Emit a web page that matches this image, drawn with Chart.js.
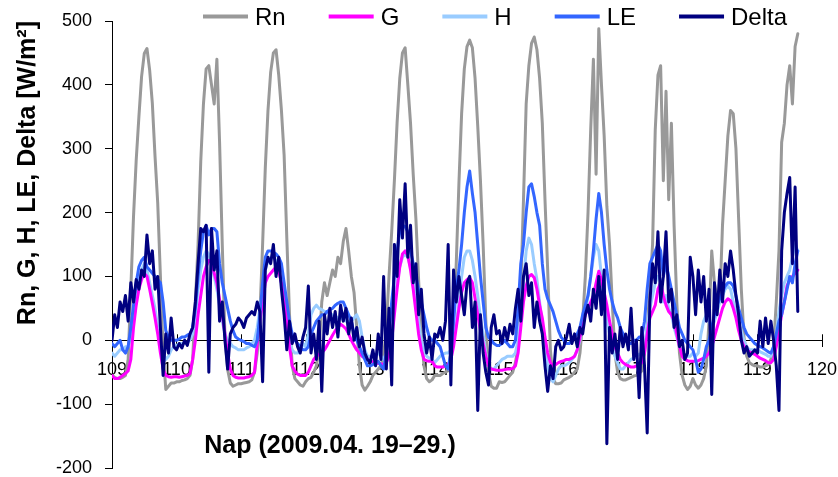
<!DOCTYPE html>
<html>
<head>
<meta charset="utf-8">
<script src="https://cdn.jsdelivr.net/npm/chart.js@4.4.1/dist/chart.umd.min.js"></script>
<style>
  html, body { margin: 0; padding: 0; background: #fff; }
  #wrap { width: 838px; height: 477px; }
</style>
</head>
<body>
<div id="wrap"><canvas id="flux"></canvas></div>
<script>
// hourly energy fluxes, day-of-year 109.0 .. 119.625 (W/m2)
const startDay = 109;
const stepDay = 1 / 24;

const rn = [
  -55,-58,-60,-60,-58,-55,-30,80,194,282,350,413,449,457,423,371,288,215,100,-15,-77,-72,-67,-67,
  -65,-65,-63,-62,-60,-55,-30,60,150,280,370,425,430,400,370,440,310,150,6,-46,-67,-72,-70,-68,
  -68,-67,-66,-65,-62,-50,-20,40,150,270,360,420,450,455,415,360,290,160,40,-40,-60,-65,-70,-72,
  -65,-60,-58,-50,-40,-15,60,90,70,90,110,100,130,120,155,175,140,100,75,20,-40,-70,-78,-72,
  -65,-55,-50,-45,-40,-25,20,100,170,250,340,410,450,458,400,340,260,190,95,10,-40,-60,-65,-62,
  -55,-55,-55,-52,-50,-45,-20,30,120,246,355,425,460,470,458,410,335,250,150,30,-50,-72,-75,-75,
  -65,-66,-65,-60,-55,-50,-35,-10,80,220,370,430,465,475,455,410,340,220,110,-15,-60,-68,-68,-67,
  -62,-60,-58,-55,-50,-45,-20,30,100,200,330,440,260,488,400,320,210,150,60,-20,-50,-60,-62,-62,
  -60,-58,-56,-55,-52,-48,-20,20,80,150,330,415,430,250,390,220,340,180,60,-20,-55,-70,-77,-72,
  -60,-70,-75,-70,-60,-40,30,140,90,65,60,180,250,320,360,355,300,190,80,5,-25,-35,-38,-40,
  -40,-42,-42,-40,-38,-30,-10,60,140,310,340,400,430,370,460,480
];

const g = [
  -55,-60,-60,-58,-55,-52,-48,-30,20,55,80,95,105,100,80,58,35,10,-20,-45,-55,-57,-58,-57,
  -57,-58,-57,-56,-55,-52,-30,0,40,70,100,115,125,122,105,90,64,40,10,-20,-45,-55,-58,-59,
  -59,-59,-58,-57,-55,-50,-5,30,60,90,100,105,110,115,108,90,70,30,-10,-40,-48,-53,-55,-55,
  -55,-50,-40,-30,-25,-22,-20,-15,-8,0,8,15,20,25,22,18,10,0,-8,-15,-20,-25,-28,-30,
  -32,-34,-35,-36,-37,-38,-35,-25,0,40,80,115,135,140,132,110,80,45,10,-15,-30,-32,-33,-33,
  -40,-42,-42,-42,-40,-38,-30,-10,20,50,75,90,95,98,90,66,40,15,-5,-25,-40,-45,-46,-47,
  -47,-47,-46,-45,-45,-44,-40,-20,20,60,85,100,103,98,80,55,35,5,-20,-35,-40,-38,-35,-33,
  -32,-30,-30,-28,-25,-15,5,25,40,50,60,70,90,108,95,75,55,30,10,-10,-20,-30,-35,-38,
  -40,-42,-42,-40,-38,-35,-20,10,35,45,55,80,90,70,55,45,40,30,10,-10,-25,-30,-32,-33,
  -33,-33,-32,-30,-28,-25,-20,-10,5,20,35,50,60,65,62,50,35,15,0,-10,-15,-18,-20,-22,
  -25,-28,-30,-32,-35,-35,-30,-10,15,40,60,85,95,100,105,110
];

const h = [
  -20,-25,-20,-15,-15,-10,-10,5,30,60,90,110,120,110,90,70,50,20,-5,-20,-30,-25,-15,-10,
  -8,-5,-5,-5,-3,0,10,40,80,110,130,140,135,120,100,80,55,30,10,0,-5,-10,-12,-15,
  -15,-15,-12,-10,-5,0,20,50,80,110,125,130,130,125,110,90,60,30,0,-15,-20,-20,-15,-5,
  -10,10,40,50,55,50,48,45,45,42,40,38,35,35,32,30,30,30,35,40,30,5,-15,-25,
  -25,-25,-22,-20,-25,-30,-20,0,30,60,90,115,130,135,130,115,100,60,30,0,-15,-25,-28,-30,
  -35,-30,-25,-22,-20,-20,-15,0,25,60,100,130,140,140,125,100,70,35,10,-20,-40,-45,-45,-40,
  -35,-30,-28,-25,-25,-25,-20,0,40,90,140,160,150,120,95,60,25,-10,-40,-60,-65,-55,-45,-40,
  -40,-38,-35,-30,-25,-15,0,20,45,70,100,130,150,140,100,60,30,10,-10,-25,-35,-45,-45,-40,
  -35,-30,-28,-25,-22,-20,-5,20,50,70,90,100,95,60,70,50,40,20,5,-10,-20,-25,-25,-25,
  -20,-25,-20,10,30,40,30,20,30,45,60,70,80,85,80,60,45,30,15,0,-10,-15,-15,-15,
  -15,-18,-20,-22,-25,-25,-15,10,45,70,90,100,110,130,150,140
];

const le = [
  -5,-10,-5,0,-15,-20,-10,20,55,90,115,125,130,115,110,105,100,95,90,60,15,5,0,0,
  0,2,5,5,8,10,20,50,100,140,170,180,165,175,175,170,120,90,70,50,30,15,5,2,
  0,-2,-5,-5,-8,-10,0,40,90,130,140,140,138,135,130,120,90,60,30,10,0,-5,-10,-15,
  -15,-10,10,20,30,35,40,40,45,48,50,55,58,60,60,50,40,30,10,0,-10,-20,-30,-40,
  -40,-38,-35,-33,-40,-45,-20,20,60,100,140,170,180,178,170,140,120,100,80,60,40,20,5,0,
  0,-5,-10,-25,-40,-45,-20,30,80,110,150,200,240,265,230,200,150,100,60,20,5,0,-5,-8,
  -8,-5,0,-5,-10,-10,0,50,120,150,200,240,245,225,200,180,120,80,65,55,45,30,15,5,
  0,-5,-5,0,5,10,20,40,55,70,100,140,190,230,200,150,110,80,60,45,35,20,10,0,
  -5,-5,0,0,5,5,30,80,120,130,140,150,140,100,120,100,80,60,40,20,10,0,-5,-10,
  -15,-30,-50,-45,-30,-10,0,20,40,55,65,75,85,90,90,85,70,50,35,20,10,5,0,-5,
  -8,-10,-12,-15,-18,-20,-10,10,30,40,60,80,100,90,120,140
];

const delta = [
  0,40,20,60,45,70,30,90,60,95,80,110,100,165,120,140,80,100,20,-55,10,-20,35,-10,
  -15,-5,-12,0,-8,10,20,60,120,175,170,180,-50,175,110,140,30,60,0,-45,10,20,25,35,
  30,20,35,40,45,40,60,45,-65,110,130,120,150,100,130,80,40,-15,30,-5,10,-10,-20,5,
  20,85,-20,10,-30,30,-80,40,10,50,20,45,5,55,30,50,10,35,0,20,-10,5,-20,-30,
  -35,-15,-40,10,-30,100,-45,50,-70,150,100,220,160,245,130,180,90,120,40,80,10,-20,5,-30,
  10,5,20,0,30,150,-70,110,60,100,70,40,90,100,20,60,-110,40,-20,-50,-70,20,40,10,
  15,-5,20,0,25,10,50,80,30,100,120,70,90,20,60,30,10,-40,-80,-40,-60,-10,0,-15,
  -10,5,25,-5,10,-10,20,10,40,55,30,80,50,100,40,110,-162,20,-20,10,-30,20,-10,10,
  -15,50,-30,0,-90,20,-40,-145,60,120,90,170,60,100,170,60,80,20,40,-10,0,-30,-20,130,
  100,40,110,60,100,30,80,-85,90,40,110,60,120,100,140,110,70,40,0,-20,-10,-25,-20,-15,
  -20,30,-10,35,-5,30,0,-40,-110,140,200,230,255,120,240,45
];

const seriesNames = ['Rn', 'G', 'H', 'LE', 'Delta'];
const seriesValues = [rn, g, h, le, delta];
const seriesColors = ['#999999', '#ff00ff', '#99ccff', '#3366ff', '#000080'];
const seriesOrder = [4, 2, 3, 1, 0]; // Delta on top, Rn at the back

const FONT = '"Liberation Sans", Arial, Helvetica, sans-serif';

const datasets = seriesNames.map((name, k) => ({
  label: name,
  data: seriesValues[k].map((v, i) => ({ x: startDay + i * stepDay, y: v })),
  borderColor: seriesColors[k],
  backgroundColor: seriesColors[k],
  borderWidth: 3,
  borderJoinStyle: 'round',
  borderCapStyle: 'round',
  pointRadius: 0,
  tension: 0,
  fill: false,
  order: seriesOrder[k]
}));

// cross ticks on the day axis, legend row and the day-axis caption
const decorations = {
  id: 'decorations',
  beforeDatasetsDraw(chart) {
    const ctx = chart.ctx;
    const xs = chart.scales.x;
    const y0 = chart.scales.y.getPixelForValue(0);
    ctx.save();
    ctx.strokeStyle = '#000';
    ctx.lineWidth = 1;
    for (let d = 109; d <= 120; d++) {
      const px = Math.round(xs.getPixelForValue(d)) + 0.5;
      ctx.beginPath();
      ctx.moveTo(px, y0 - 6);
      ctx.lineTo(px, y0);
      ctx.stroke();
    }
    ctx.restore();
  },
  afterDraw(chart) {
    const ctx = chart.ctx;
    ctx.save();
    ctx.font = '24px ' + FONT;
    ctx.textBaseline = 'alphabetic';
    ctx.textAlign = 'left';
    let lx = 203;
    seriesNames.forEach((name, k) => {
      ctx.strokeStyle = seriesColors[k];
      ctx.lineWidth = 4;
      ctx.beginPath();
      ctx.moveTo(lx, 16.5);
      ctx.lineTo(lx + 45, 16.5);
      ctx.stroke();
      ctx.fillStyle = '#000';
      ctx.fillText(name, lx + 52, 25);
      lx += 52 + ctx.measureText(name).width + 43;
    });
    ctx.font = 'bold 25px ' + FONT;
    ctx.textAlign = 'center';
    ctx.fillText('Nap (2009.04. 19\u201329.)', 330, 453);
    ctx.restore();
  }
};

new Chart(document.getElementById('flux'), {
  type: 'line',
  data: { datasets },
  plugins: [decorations],
  options: {
    responsive: true,
    maintainAspectRatio: false,
    animation: false,
    events: [],
    layout: { padding: { top: 21, right: 16, bottom: 9, left: 0 } },
    plugins: {
      legend: { display: false },
      tooltip: { enabled: false }
    },
    scales: {
      x: {
        type: 'linear',
        min: 109,
        max: 120,
        position: { y: 0 },
        // the day axis sits on the zero line, so it takes no room of its own
        afterFit: (scale) => {
          scale.height = 0;
          scale.paddingLeft = 0;
          scale.paddingRight = 0;
          scale.paddingTop = 0;
          scale.paddingBottom = 0;
        },
        ticks: {
          stepSize: 1,
          color: '#000',
          padding: 15,
          maxRotation: 0,
          font: { family: FONT, size: 18, lineHeight: 1 }
        },
        grid: { drawOnChartArea: false, color: '#000', tickLength: 6 },
        border: { color: '#000', width: 1 }
      },
      y: {
        min: -200,
        max: 500,
        afterFit: (scale) => {
          scale.width = 112;
          scale.paddingTop = 0;
          scale.paddingBottom = 0;
        },
        ticks: {
          stepSize: 100,
          color: '#000',
          padding: 13,
          font: { family: FONT, size: 18, lineHeight: 1 }
        },
        grid: { drawOnChartArea: false, color: '#000', tickLength: 7 },
        border: { color: '#000', width: 1 },
        title: {
          display: true,
          text: 'Rn, G, H, LE, Delta [W/m\u00b2]',
          align: 'end',
          color: '#000',
          padding: { top: 13, bottom: 0 },
          font: { family: FONT, size: 25, weight: 'bold' }
        }
      }
    }
  }
});
</script>
</body>
</html>
